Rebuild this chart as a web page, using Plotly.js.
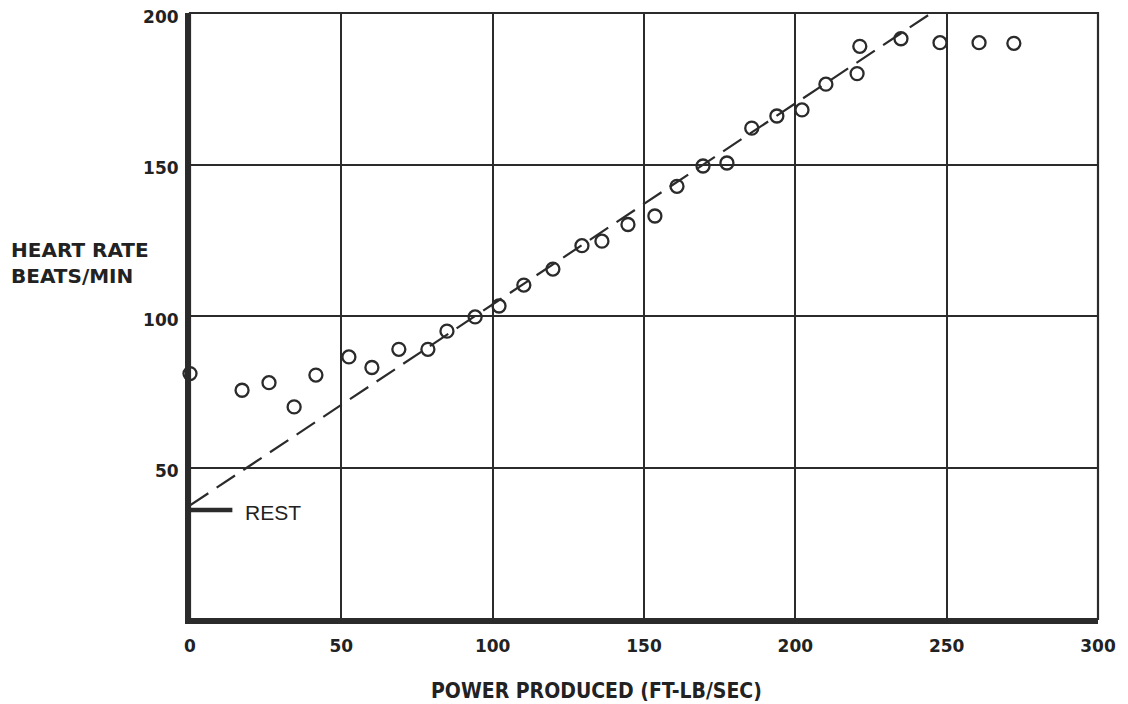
<!DOCTYPE html>
<html><head><meta charset="utf-8">
<script src="https://cdn.plot.ly/plotly-3.0.1.min.js"></script>
<style>html,body{margin:0;padding:0;background:#fff}#chart{width:1128px;height:704px}</style>
</head><body><div id="chart"></div>
<script>
const powerX = [0, 17.2, 26.1, 34.4, 41.6, 52.5, 60.1, 69.0, 78.6, 84.9, 94.2, 102.1, 110.3, 119.9, 129.5, 136.1, 144.7, 153.6, 160.9, 169.5, 177.4, 185.6, 193.9, 202.2, 210.1, 220.4, 221.3, 234.9, 247.8, 260.7, 272.2];
const heartY = [81, 75.5, 78, 70, 80.5, 86.5, 83, 89, 89, 95, 99.7, 103.3, 110.2, 115.5, 123.2, 124.7, 130.2, 133, 142.8, 149.5, 150.5, 162, 166, 168, 176.5, 180, 189, 191.5, 190.2, 190.2, 190];
const fitX = [0, 245];
const fitY = [37.5, 200];
const restX = [0, 14];
const restY = [36, 36];
const xTicks = [0, 50, 100, 150, 200, 250, 300];
const yTicks = [50, 100, 150, 200];

const ink = '#2b2b2b';
const condensed = 'DejaVu Sans Condensed, Liberation Sans Narrow, Liberation Sans, sans-serif';
const wide = 'DejaVu Sans, Verdana, sans-serif';
const data = [
  {x: fitX, y: fitY, mode: 'lines', type: 'scatter', line: {color: ink, width: 2.2, dash: '22px,10px'}, hoverinfo: 'skip'},
  {x: restX, y: restY, mode: 'lines', type: 'scatter', line: {color: ink, width: 4.5}, cliponaxis: false},
  {x: powerX, y: heartY, mode: 'markers', type: 'scatter', cliponaxis: false,
   marker: {symbol: 'circle-open', size: 13, color: ink, line: {width: 2.3, color: ink}}}
];
const layout = {
  width: 1128, height: 704,
  margin: {l: 190, r: 30, t: 13, b: 85},
  paper_bgcolor: '#ffffff', plot_bgcolor: '#ffffff',
  showlegend: false,
  xaxis: {range: [0, 300], tickvals: xTicks, ticktext: xTicks.map(String), showgrid: true, gridcolor: ink, gridwidth: 2,
    zeroline: false, showline: true, linecolor: ink, linewidth: 5, ticks: '', ticklabelstandoff: 8,
    tickfont: {family: wide, size: 17, color: '#222', weight: 'bold'}},
  yaxis: {range: [0, 200], tickvals: yTicks, ticktext: yTicks.map(String), showgrid: true, gridcolor: ink, gridwidth: 2,
    zeroline: false, showline: true, linecolor: ink, linewidth: 5, ticks: '', ticklabelstandoff: 3, ticklabelshift: 4,
    tickfont: {family: wide, size: 17, color: '#222', weight: 'bold'}},
  shapes: [
    {type: 'rect', xref: 'paper', yref: 'paper', x0: 0, x1: 1, y0: 0, y1: 1, line: {color: ink, width: 2.2}}
  ],
  annotations: [
    {text: 'REST', xref: 'x', yref: 'y', x: 17.5, y: 35, xanchor: 'left', yanchor: 'middle', showarrow: false,
     font: {family: 'Liberation Sans, Arial, sans-serif', size: 21, color: '#222'}},
    {text: '<b>HEART RATE<br>BEATS/MIN</b>', xref: 'paper', yref: 'paper', x: -0.199, y: 0.587, xanchor: 'left', yanchor: 'middle', align: 'left', showarrow: false,
     font: {family: wide, size: 20, color: '#222'}},
    {text: '<b>POWER PRODUCED (FT-LB/SEC)</b>', xref: 'paper', yref: 'paper', x: 0.448, y: -0.119, xanchor: 'center', yanchor: 'middle', showarrow: false,
     font: {family: condensed, size: 21, color: '#222'}}
  ]
};
Plotly.newPlot('chart', data, layout, {displayModeBar: false, staticPlot: true});
</script></body></html>
